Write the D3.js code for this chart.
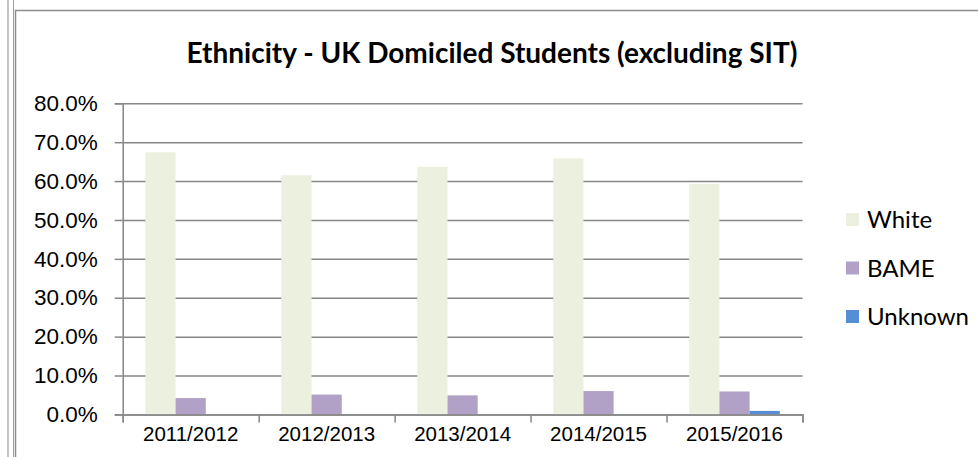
<!DOCTYPE html>
<html>
<head>
<meta charset="utf-8">
<script src="https://cdn.jsdelivr.net/npm/d3@7"></script>
<style>
  body { margin: 0; background: #fff; }
  svg { display: block; font-family: Lato, "Liberation Sans", sans-serif; }
</style>
</head>
<body>
<svg id="chart" width="978" height="457"></svg>
<script>
const years = ["2011/2012", "2012/2013", "2013/2014", "2014/2015", "2015/2016"];
const seriesNames = ["White", "BAME", "Unknown"];
const seriesColors = ["#ebf1de", "#b2a1c7", "#558ed5"];
const white = [0.674, 0.615, 0.637, 0.658, 0.593];
const bame = [0.042, 0.051, 0.049, 0.060, 0.059];
const unknown = [0, 0, 0, 0, 0.009];
const yTicks = [0, 0.1, 0.2, 0.3, 0.4, 0.5, 0.6, 0.7, 0.8];

const values = [white, bame, unknown];
const data = years.map((yr, i) => ({ year: yr, vals: values.map(s => s[i]) }));

const svg = d3.select("#chart");
const plotLeft = 122.7, plotRight = 802.5, plotTop = 103.3, plotBottom = 414.4;

// frame lines
svg.append("line").attr("x1", 8).attr("x2", 8).attr("y1", 0).attr("y2", 457)
  .attr("stroke", "#b0b0b0").attr("stroke-width", 1.5);
svg.append("line").attr("x1", 13.5).attr("x2", 13.5).attr("y1", 0).attr("y2", 457)
  .attr("stroke", "#a0a0a0").attr("stroke-width", 1);
svg.append("rect").attr("x", 15.5).attr("y", 10.5).attr("width", 1000).attr("height", 500)
  .attr("fill", "none").attr("stroke", "#8c8c8c").attr("stroke-width", 1.5);

const x = d3.scaleBand().domain(years).range([plotLeft, plotRight]).paddingInner(0).paddingOuter(0);
const y = d3.scaleLinear().domain([0, 0.8]).range([plotBottom, plotTop]);
const bw = x.bandwidth() / 4.5;
const xs = d3.scaleBand().domain(seriesNames).range([bw * 0.75, x.bandwidth() - bw * 0.75]);

// gridlines
svg.append("g")
  .attr("transform", `translate(${plotLeft},0)`)
  .call(d3.axisLeft(y).tickValues(yTicks).tickSize(-(plotRight - plotLeft)).tickFormat(""))
  .call(g => g.select(".domain").remove())
  .call(g => g.selectAll("line").attr("stroke", "#868686").attr("stroke-width", 1.5));

// bars
const groups = svg.append("g").selectAll("g").data(data).join("g")
  .attr("transform", d => `translate(${x(d.year)},0)`);
groups.selectAll("rect").data(d => d.vals.map((v, i) => ({ v, i })))
  .join("rect")
  .attr("x", d => xs(seriesNames[d.i]))
  .attr("width", xs.bandwidth())
  .attr("y", d => y(d.v))
  .attr("height", d => plotBottom - y(d.v))
  .attr("fill", d => seriesColors[d.i]);

// y axis
svg.append("g")
  .attr("transform", `translate(${plotLeft},0)`)
  .call(d3.axisLeft(y).tickValues(yTicks).tickSize(8).tickPadding(17).tickFormat(d3.format(".1%")))
  .call(g => g.selectAll("line, path").attr("stroke", "#868686").attr("stroke-width", 1.5))
  .call(g => g.selectAll("text").attr("font-size", 22.5).attr("fill", "#000"));

// x axis
svg.append("g")
  .attr("transform", `translate(0,${plotBottom})`)
  .call(d3.axisBottom(d3.scaleLinear().domain([0, 5]).range([plotLeft, plotRight]))
    .tickValues([0, 1, 2, 3, 4, 5]).tickSize(8).tickFormat(""))
  .call(g => g.selectAll("line, path").attr("stroke", "#868686").attr("stroke-width", 1.5));
svg.append("g")
  .attr("transform", `translate(0,${plotBottom})`)
  .call(d3.axisBottom(x).tickSize(0).tickPadding(12))
  .call(g => g.select(".domain").remove())
  .call(g => g.selectAll("text").attr("font-size", 20.5).attr("fill", "#000"));

// title
svg.append("text").attr("x", 492).attr("y", 63).attr("text-anchor", "middle")
  .attr("font-size", 28).attr("font-weight", "bold").text("Ethnicity - UK Domiciled Students (excluding SIT)");

// legend
const legend = svg.append("g").selectAll("g").data(seriesNames).join("g")
  .attr("transform", (d, i) => `translate(846,${220 + i * 48.5})`);
legend.append("rect").attr("x", 0).attr("y", -7).attr("width", 13).attr("height", 13)
  .attr("fill", (d, i) => seriesColors[i]);
legend.append("text").attr("x", 21).attr("y", 0).attr("dy", "0.35em")
  .attr("font-size", 24).text(d => d);
</script>
</body>
</html>
